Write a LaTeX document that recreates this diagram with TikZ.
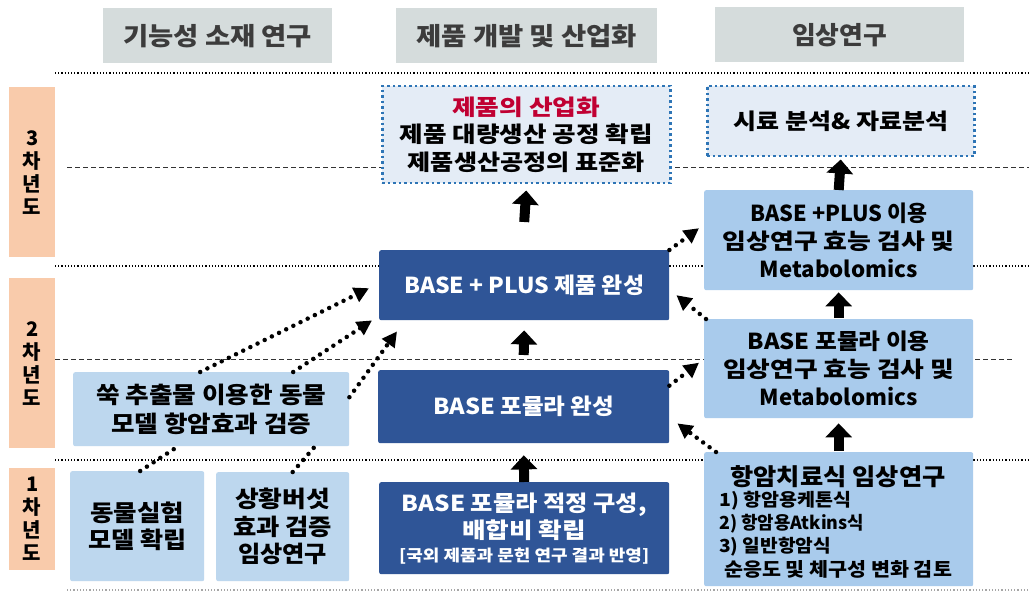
\documentclass[tikz,border=0pt]{standalone}
\usepackage{graphicx}
\usepackage{fontspec}
\setmainfont{Noto Sans CJK KR}
\usetikzlibrary{arrows.meta,calc}
\newcommand{\fitw}[2]{\resizebox{#1pt}{\height}{#2}}
\definecolor{hdrgray}{HTML}{D5DCDC}
\definecolor{hdrtext}{HTML}{3C3C3C}
\definecolor{peach}{HTML}{F9CBAB}
\definecolor{darkblue}{HTML}{2F5597}
\definecolor{lightblue}{HTML}{BDD7EE}
\definecolor{midblue}{HTML}{A9CBEC}
\definecolor{paleblue}{HTML}{E4ECF6}
\definecolor{dotblue}{HTML}{2E75B6}
\definecolor{redtext}{HTML}{C00032}
\tikzset{
  hdr/.style={fill=hdrgray, anchor=north west, inner sep=0pt, text=hdrtext,
    font=\fontsize{25}{28}\selectfont\bfseries},
  yr/.style={fill=peach, anchor=north west, inner sep=0pt, align=center,
    font=\fontsize{20}{23}\selectfont\bfseries},
  dbox/.style={fill=darkblue, rounded corners=2pt, anchor=north west, inner sep=0pt,
    align=center, text=white, font=\fontsize{22}{28}\selectfont\bfseries},
  lbox/.style={fill=lightblue, rounded corners=2pt, anchor=north west, inner sep=0pt,
    align=center, font=\fontsize{23}{27.5}\selectfont\bfseries},
  rbox/.style={fill=midblue, rounded corners=2pt, anchor=north west, inner sep=0pt,
    align=center, font=\fontsize{22}{28}\selectfont\bfseries},
  dotbox/.style={fill=paleblue, draw=dotblue, line width=2.5pt, dash pattern=on 2.5pt off 3pt,
    anchor=north west, inner sep=0pt, align=center, font=\fontsize{22}{27.5}\selectfont\bfseries},
  yearsep/.style={line width=1.2pt, dash pattern=on 1.2pt off 2pt},
  halfsep/.style={line width=0.7pt, dash pattern=on 5pt off 3pt, black!80},
  darr/.style={line width=4.5pt, dash pattern=on 0pt off 8pt, line cap=round,
    -{Triangle[length=15pt,width=15pt]}},
  dline/.style={line width=4.5pt, dash pattern=on 0pt off 8pt, line cap=round},
  barr/.style={line width=10pt, -{Triangle[length=14pt,width=26pt]}},
  txt/.style={inner sep=0pt, anchor=west},
}
\begin{document}
\begin{tikzpicture}[x=1pt,y=-1pt]
\useasboundingbox (0,0) rectangle (1029,591);
\fill[white] (0,0) rectangle (1029,591);

% separator lines
\draw[yearsep] (55,73) -- (1029,73);
\draw[yearsep] (55,266) -- (1029,266);
\draw[yearsep] (55,460) -- (1029,460);
\draw[yearsep, black!35] (67,590) -- (1029,590);
\draw[halfsep] (67,167) -- (1029,167);
\draw[halfsep] (55,359) -- (1014,359);

% headers
\node[hdr, minimum width=229pt, minimum height=55pt] (h1) at (103,8) {\fitw{189}{기능성 소재 연구}};
\node[hdr, minimum width=261pt, minimum height=55pt] (h2) at (396,8) {\fitw{221}{제품 개발 및 산업화}};
\node[hdr, minimum width=249pt, minimum height=55pt] (h3) at (715,7) {\fitw{95}{임상연구}};

% year labels
\node[yr, minimum width=46pt, minimum height=170pt] (y3) at (9,87) {3\\차\\년\\도};
\node[yr, minimum width=46pt, minimum height=170pt] (y2) at (9,278) {2\\차\\년\\도};
\node[yr, minimum width=46pt, minimum height=102pt] (y1) at (9,468) {1\\차\\년\\도};

% product column
\node[dotbox, minimum width=288pt, minimum height=97pt] (ind) at (381,85)
  {\fitw{148}{\color{redtext}제품의 산업화}\\\fitw{253}{제품 대량생산 공정 확립}\\\fitw{237}{제품생산공정의 표준화}};
\node[dbox, minimum width=290pt, minimum height=70pt] (bp) at (379,250) {\fitw{240}{BASE + PLUS 제품 완성}};
\node[dbox, minimum width=291pt, minimum height=73pt] (bf) at (378,370) {\fitw{181}{BASE 포뮬라 완성}};
\node[dbox, minimum width=290pt, minimum height=92pt] (bc) at (379,482)
  {\fitw{245}{BASE 포뮬라 적정 구성,}\\[-1pt]\fitw{124}{배합비 확립}\\[-5pt]{\fontsize{16}{18}\selectfont\fitw{250}{[국외 제품과 문헌 연구 결과 반영]}}};

% clinical column
\node[dotbox, minimum width=267pt, minimum height=70pt] (smp) at (706,85) {\fitw{215}{시료 분석\& 자료분석}};
\node[rbox, minimum width=269pt, minimum height=100pt] (cbp) at (704,190)
  {\fitw{177}{BASE +PLUS 이용}\\\fitw{232}{임상연구 효능 검사 및}\\\fitw{158}{Metabolomics}};
\node[rbox, minimum width=269pt, minimum height=99pt] (cbf) at (704,319)
  {\fitw{182}{BASE 포뮬라 이용}\\\fitw{231}{임상연구 효능 검사 및}\\\fitw{158}{Metabolomics}};
\node[rbox, minimum width=269pt, minimum height=134pt] (cac) at (704,452) {};
\node[inner sep=0pt, font=\fontsize{23.5}{26}\selectfont\bfseries] (cac1) at (838,477) {\fitw{215}{항암치료식 임상연구}};
\node[txt, font=\fontsize{18}{20}\selectfont\bfseries] (cac2) at (719,501) {\fitw{132}{1) 항암용케톤식}};
\node[txt, font=\fontsize{18}{20}\selectfont\bfseries] (cac3) at (719,524) {\fitw{145}{2) 항암용Atkins식}};
\node[txt, font=\fontsize{18}{20}\selectfont\bfseries] (cac4) at (719,547) {\fitw{112}{3) 일반항암식}};
\node[inner sep=0pt, font=\fontsize{19}{22}\selectfont\bfseries] (cac5) at (838,569) {\fitw{228}{순응도 및 체구성 변화 검토}};

% material column
\node[lbox, minimum width=276pt, minimum height=74pt, font=\fontsize{23}{29}\selectfont\bfseries] (ssuk) at (73,372)
  {\fitw{230}{쑥 추출물 이용한 동물}\\\fitw{200}{모델 항암효과 검증}};
\node[lbox, minimum width=134pt, minimum height=110pt] (ani) at (70,471)
  {\fitw{94}{동물실험}\\\fitw{98}{모델 확립}};
\node[lbox, minimum width=133pt, minimum height=109pt] (mush) at (216,472)
  {\fitw{95}{상황버섯}\\\fitw{99}{효과 검증}\\\fitw{89}{임상연구}};

% block arrows
\draw[barr] ([yshift=28pt]bp.north) -- ([yshift=-6pt]ind.south);
\draw[barr] ([yshift=15pt]bf.north) -- ([yshift=-10pt]bp.south);
\draw[barr] (bc.north) -- ([yshift=-12pt]bf.south);
\draw[barr] (cbp.north) -- ([yshift=-2pt]smp.south);
\draw[barr] ([yshift=1pt]cbf.north) -- ([yshift=-2pt]cbp.south);
\draw[barr] ([yshift=1pt]cac.north) -- ([yshift=-5pt]cbf.south);

% dotted arrows
\draw[darr] ([xshift=-11pt]ssuk.north) -- ([xshift=-10pt,yshift=-3pt]bp.west);
\draw[darr] ([xshift=82pt]ssuk.north) -- ([xshift=-7pt]bp.south west);
\draw[darr] ([yshift=12pt]ssuk.east) -- ([xshift=18pt,yshift=-11pt]bp.south west);
\draw[dline] ([xshift=3pt]ani.north) -- ([xshift=105pt]ssuk.south west);
\draw[dline] ([xshift=10pt]mush.north) -- ([xshift=242pt]ssuk.south west);
\draw[darr] (bp.north east) -- ([xshift=-5pt,yshift=12pt]cbp.west);
\draw[darr] ([xshift=2pt]cbf.north west) -- ([xshift=7pt,yshift=-10pt]bp.east);
\draw[darr] ([yshift=21pt]bf.east) -- ([xshift=-5pt,yshift=6pt]cbf.west);
\draw[darr] ([xshift=12pt]cac.north west) -- ([xshift=8pt,yshift=20pt]bf.south east);
\end{tikzpicture}
\end{document}
